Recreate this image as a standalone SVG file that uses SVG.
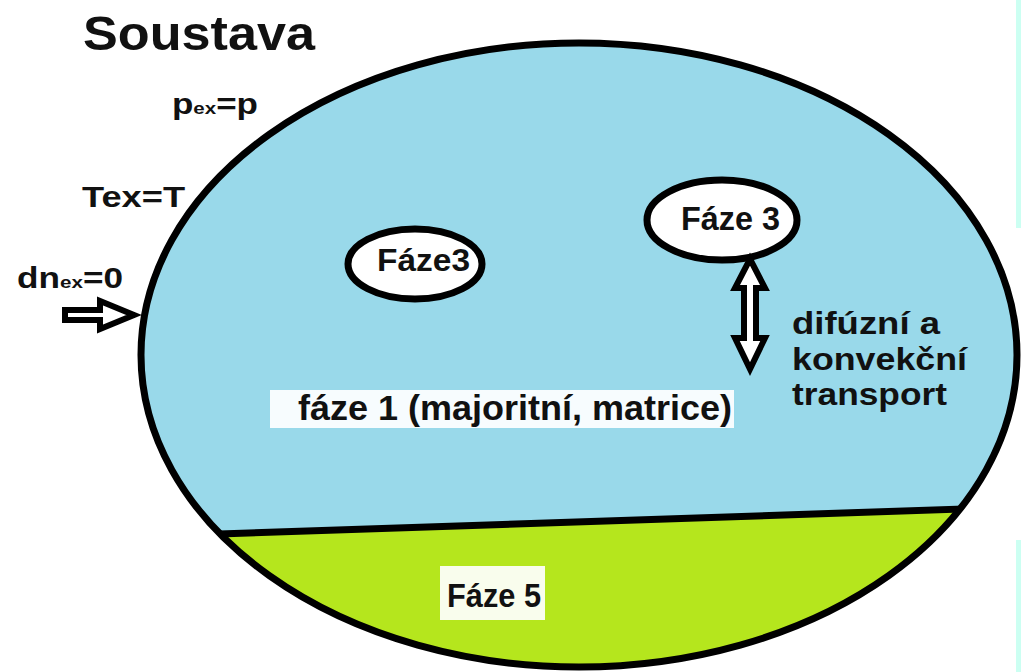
<svg xmlns="http://www.w3.org/2000/svg" width="1021" height="672" viewBox="0 0 1021 672">
<defs>
<style>
.t{font-family:"Liberation Sans",Arial,sans-serif;font-weight:bold;fill:#111;}
.hollow{fill:#fff;stroke:#000;stroke-width:6;stroke-linejoin:miter;}
.phase{fill:#fff;stroke:#000;stroke-width:7;}
.band{fill:#fff;opacity:0.92;}
</style>
<clipPath id="ell"><ellipse cx="579" cy="355" rx="438" ry="312"/></clipPath>
</defs>
<rect width="1021" height="672" fill="#fff"/>
<rect x="1016" y="0" width="5" height="228" fill="#ccfff2"/>
<rect x="1016" y="540" width="5" height="132" fill="#ccfff2"/>

<g id="system">
<ellipse cx="579" cy="355" rx="438" ry="312" fill="#99d9ea"/>
<g clip-path="url(#ell)">
<polygon points="100,538 1021,507 1021,700 100,700" fill="#b5e61d"/>
<line x1="100" y1="538" x2="1021" y2="507" stroke="#000" stroke-width="7"/>
</g>
<ellipse cx="579" cy="355" rx="438" ry="312" fill="none" stroke="#000" stroke-width="7"/>
</g>

<g id="title"><text class="t" x="83" y="50" font-size="49" textLength="232" lengthAdjust="spacingAndGlyphs">Soustava</text></g>
<g id="label-p"><text class="t" x="172" y="114" font-size="29" textLength="86" lengthAdjust="spacingAndGlyphs">p<tspan font-size="17">ex</tspan>=p</text></g>
<g id="label-T"><text class="t" x="82" y="207" font-size="29" textLength="103" lengthAdjust="spacingAndGlyphs">Tex=T</text></g>
<g id="label-n"><text class="t" x="17" y="288" font-size="29" textLength="106" lengthAdjust="spacingAndGlyphs">dn<tspan font-size="17">ex</tspan>=0</text></g>

<g id="phase1">
<rect class="band" x="270" y="390" width="464" height="38"/>
<text class="t" x="298" y="420" font-size="35" textLength="434" lengthAdjust="spacingAndGlyphs">fáze 1 (majoritní, matrice)</text>
</g>

<g id="phase3a">
<ellipse class="phase" cx="415" cy="264" rx="67" ry="35"/>
<text class="t" x="377" y="271" font-size="31" textLength="93" lengthAdjust="spacingAndGlyphs">Fáze3</text>
</g>

<g id="phase3b">
<ellipse class="phase" cx="722" cy="220" rx="75" ry="40"/>
<text class="t" x="681" y="230" font-size="33" textLength="99" lengthAdjust="spacingAndGlyphs">Fáze 3</text>
</g>

<g id="phase5">
<rect class="band" x="440" y="566" width="105" height="54"/>
<text class="t" x="447" y="607" font-size="34" textLength="94" lengthAdjust="spacingAndGlyphs">Fáze 5</text>
</g>

<g id="transport-label">
<text class="t" font-size="31"><tspan x="792" y="334" textLength="148" lengthAdjust="spacingAndGlyphs">difúzní a</tspan><tspan x="792" y="370" textLength="175" lengthAdjust="spacingAndGlyphs">konvekční</tspan><tspan x="792" y="405" textLength="155" lengthAdjust="spacingAndGlyphs">transport</tspan></text>
</g>

<g id="connectors">
<polygon class="hollow" points="65,310 100,310 100,301 134,315 100,329 100,320 65,320"/>
<polygon class="hollow" points="750,259 765,288 756,288 756,338 765,338 750,369 735,338 744,338 744,288 735,288"/>
</g>
</svg>
